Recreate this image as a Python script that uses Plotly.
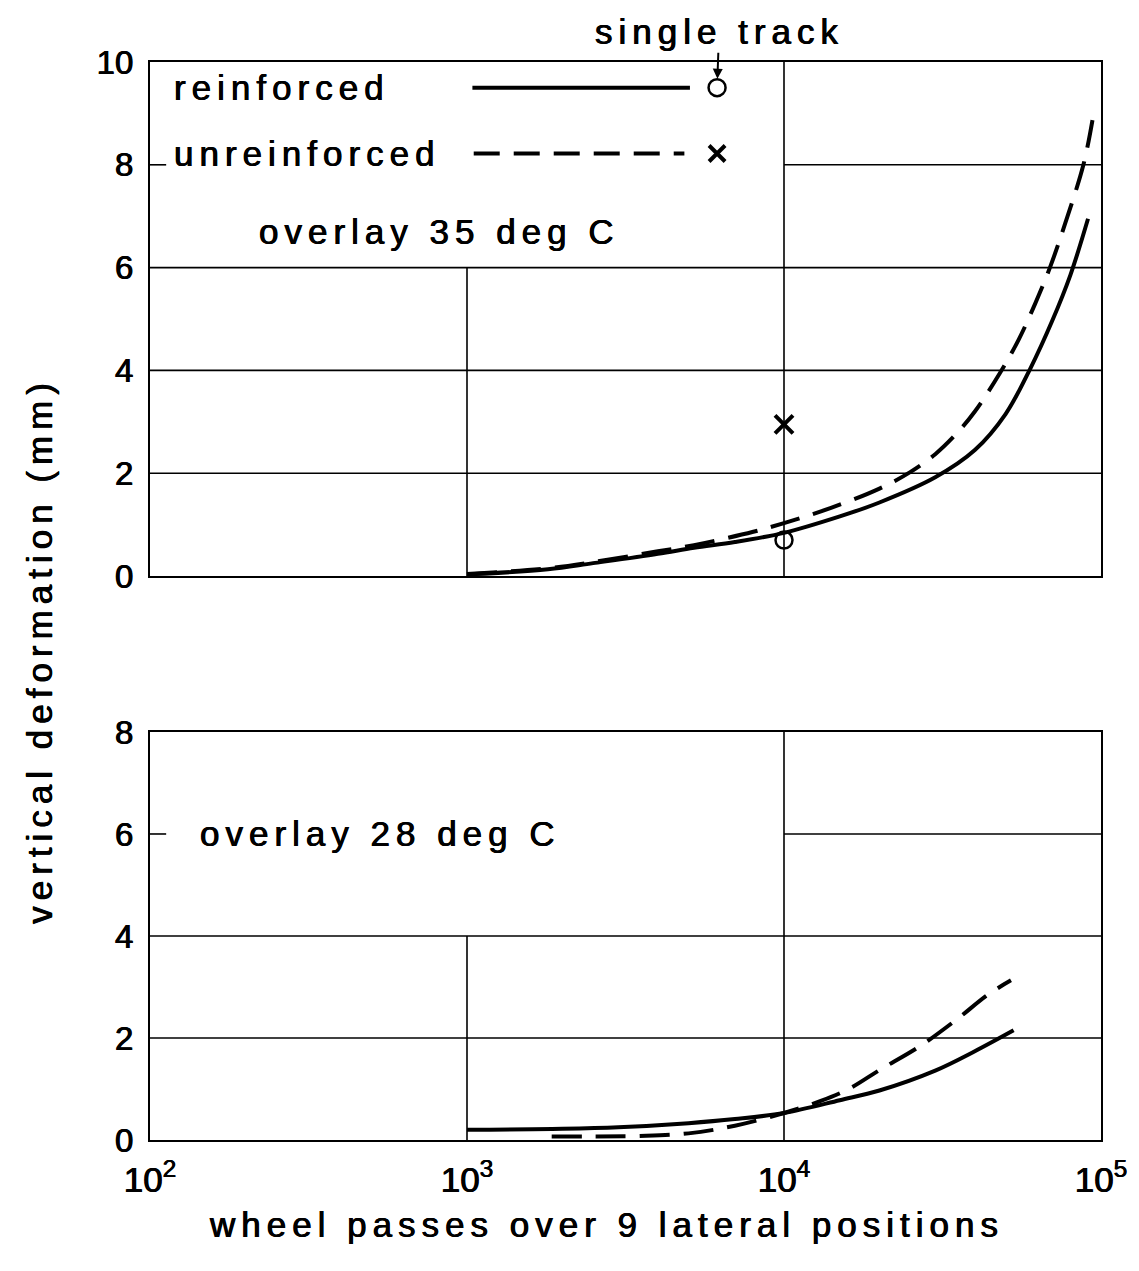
import math
import plotly.graph_objects as go

# ---- data: vertical deformation (mm) vs wheel passes over 9 lateral positions ----
# overlay 35 deg C
passes_35_reinf = [1000, 1800, 2500, 4000, 5200, 7000, 10000, 15000, 20000, 30000,
                   40000, 50000, 60000, 70000, 80000, 91000]
defo_35_reinf = [0.03, 0.13, 0.25, 0.43, 0.55, 0.66, 0.84, 1.16, 1.43, 1.92,
                 2.45, 3.15, 4.05, 4.95, 5.85, 6.95]

passes_35_unreinf = [1000, 1800, 2500, 4000, 5200, 8000, 10000, 14000, 20000, 25000,
                     30000, 35000, 40000, 48000, 55000, 62000, 69000, 77000, 88000, 94000]
defo_35_unreinf = [0.04, 0.15, 0.27, 0.48, 0.6, 0.86, 1.03, 1.32, 1.7, 2.02,
                   2.37, 2.77, 3.2, 3.95, 4.6, 5.3, 6.0, 6.85, 8.0, 8.87]

# single track results at 10^4 passes (35 deg C)
single_passes = [10000]
single_reinf = [0.7]
single_unreinf = [2.95]

# overlay 28 deg C
passes_28_reinf = [1000, 2000, 3000, 5000, 7000, 10000, 15000, 20000, 30000, 40000, 53000]
defo_28_reinf = [0.2, 0.22, 0.25, 0.33, 0.41, 0.53, 0.78, 0.97, 1.36, 1.74, 2.15]

passes_28_unreinf = [1850, 2500, 3500, 5000, 7000, 10000, 13000, 16000, 20000, 27000,
                     35000, 44000, 52000]
defo_28_unreinf = [0.07, 0.07, 0.08, 0.13, 0.28, 0.53, 0.76, 1.0, 1.37, 1.85,
                   2.36, 2.85, 3.13]

# key (legend) sample positions in the upper panel
key_line_reinf_x = [1040, 5050]
key_line_reinf_y = [9.5, 9.5]
key_line_unreinf_x = [1050, 4850]
key_line_unreinf_y = [8.22, 8.22]
key_marker_x = [6150]
key_marker_reinf_y = [9.5]
key_marker_unreinf_y = [8.22]

x_tickvals = [1e2, 1e3, 1e4, 1e5]
x_ticktext = ["10<sup>2</sup>", "10<sup>3</sup>", "10<sup>4</sup>", "10<sup>5</sup>"]
y_ticks_top = [0, 2, 4, 6, 8, 10]
y_ticks_bottom = [0, 2, 4, 6, 8]

FONT = "Liberation Sans, Arial, Helvetica, sans-serif"
INK = "black"
HEAVY = "0.45px 0px 0px #000, -0.45px 0px 0px #000"


def spaced(text, px=6):
    return f'<span style="letter-spacing:{px}px">{text}</span>'


fig = go.Figure()

solid = dict(color=INK, width=4)
dashed = dict(color=INK, width=4, dash="30px,14px")
smooth = dict(shape="spline", smoothing=1.0)

# upper panel curves
fig.add_trace(go.Scatter(x=passes_35_reinf, y=defo_35_reinf, mode="lines",
                         line=dict(**solid, **smooth),
                         xaxis="x", yaxis="y", showlegend=False))
fig.add_trace(go.Scatter(x=passes_35_unreinf, y=defo_35_unreinf, mode="lines",
                         line=dict(**dashed, **smooth),
                         xaxis="x", yaxis="y", showlegend=False))
fig.add_trace(go.Scatter(x=single_passes, y=single_reinf, mode="markers",
                         marker=dict(symbol="circle-open", size=17, color=INK,
                                     line=dict(width=2.5, color=INK)),
                         xaxis="x", yaxis="y", showlegend=False))
fig.add_trace(go.Scatter(x=single_passes, y=single_unreinf, mode="markers",
                         marker=dict(symbol="x-thin", size=18, color=INK,
                                     line=dict(width=4, color=INK)),
                         xaxis="x", yaxis="y", showlegend=False))

# key samples
fig.add_trace(go.Scatter(x=key_line_reinf_x, y=key_line_reinf_y, mode="lines",
                         line=solid, xaxis="x", yaxis="y", showlegend=False))
fig.add_trace(go.Scatter(x=key_line_unreinf_x, y=key_line_unreinf_y, mode="lines",
                         line=dict(color=INK, width=4, dash="26px,14px"),
                         xaxis="x", yaxis="y", showlegend=False))
fig.add_trace(go.Scatter(x=key_marker_x, y=key_marker_reinf_y, mode="markers",
                         marker=dict(symbol="circle-open", size=17, color=INK,
                                     line=dict(width=2.5, color=INK)),
                         xaxis="x", yaxis="y", showlegend=False))
fig.add_trace(go.Scatter(x=key_marker_x, y=key_marker_unreinf_y, mode="markers",
                         marker=dict(symbol="x-thin", size=16, color=INK,
                                     line=dict(width=4, color=INK)),
                         xaxis="x", yaxis="y", showlegend=False))

# lower panel curves
fig.add_trace(go.Scatter(x=passes_28_reinf, y=defo_28_reinf, mode="lines",
                         line=dict(**solid, **smooth),
                         xaxis="x2", yaxis="y2", showlegend=False))
fig.add_trace(go.Scatter(x=passes_28_unreinf, y=defo_28_unreinf, mode="lines",
                         line=dict(**dashed, **smooth),
                         xaxis="x2", yaxis="y2", showlegend=False))

# partial grid lines
shapes = []
grid = dict(color=INK, width=1.6)


def hline(yref, xr, y0, x0, x1):
    shapes.append(dict(type="line", xref=xr, yref=yref, x0=x0, x1=x1, y0=y0, y1=y0,
                       line=grid, layer="below"))


def vline(yref, xr, x0, y0, y1):
    shapes.append(dict(type="line", xref=xr, yref=yref, x0=x0, x1=x0, y0=y0, y1=y1,
                       line=grid, layer="below"))


# upper panel
for yv in (2, 4, 6):
    hline("y", "x domain", yv, 0, 1)
hline("y", "x domain", 8, 2 / 3, 1)
hline("y", "x domain", 8, 0, 0.017)
vline("y", "x domain", 1 / 3, 0, 6)
vline("y", "x domain", 2 / 3, 0, 10)
# lower panel
for yv in (2, 4):
    hline("y2", "x2 domain", yv, 0, 1)
hline("y2", "x2 domain", 6, 2 / 3, 1)
hline("y2", "x2 domain", 6, 0, 0.017)
vline("y2", "x2 domain", 1 / 3, 0, 4)
vline("y2", "x2 domain", 2 / 3, 0, 8)

txt = dict(family=FONT, size=35, color=INK, shadow=HEAVY)
tickf = dict(family=FONT, size=33, color=INK, shadow=HEAVY)

annotations = [
    dict(text=spaced("reinforced"), xref="x domain", yref="y", x=0.023, y=9.5,
         xanchor="left", yanchor="middle", showarrow=False, font=txt),
    dict(text=spaced("unreinforced"), xref="x domain", yref="y", x=0.023, y=8.22,
         xanchor="left", yanchor="middle", showarrow=False, font=txt),
    dict(text=spaced("overlay 35 deg C"), xref="x domain", yref="y", x=0.113, y=6.7,
         xanchor="left", yanchor="middle", showarrow=False, font=txt),
    dict(text=spaced("overlay 28 deg C"), xref="x2 domain", yref="y2", x=0.05, y=6.0,
         xanchor="left", yanchor="middle", showarrow=False, font=txt),
    dict(text=spaced("single track"), xref="x", yref="y", x=math.log10(key_marker_x[0]),
         y=key_marker_reinf_y[0], ax=2, ay=-56, showarrow=True, arrowhead=2,
         arrowsize=1, arrowwidth=2, arrowcolor=INK, standoff=9, font=txt),
    dict(text=spaced("wheel passes over 9 lateral positions"), xref="paper", yref="paper",
         x=0.48, y=-0.078, xanchor="center", yanchor="middle", showarrow=False, font=txt),
    dict(text=spaced("vertical deformation (mm)"), xref="paper", yref="paper",
         x=-0.117, y=0.4545, xanchor="center", yanchor="middle", textangle=-90,
         showarrow=False, font=txt),
]

axis_common = dict(showline=True, linecolor=INK, linewidth=2.2, mirror=True,
                   showgrid=False, zeroline=False, ticks="")

fig.update_layout(
    width=1139, height=1271,
    margin=dict(l=150, r=31, t=62, b=131),
    paper_bgcolor="white", plot_bgcolor="white",
    font=dict(family=FONT, color=INK),
    xaxis=dict(type="log", range=[2, 5], domain=[0, 1], anchor="y",
               showticklabels=False, **axis_common),
    yaxis=dict(range=[0, 10], domain=[0.5232, 1], anchor="x", tickvals=y_ticks_top,
               tickfont=tickf, ticklabelstandoff=8, **axis_common),
    xaxis2=dict(type="log", range=[2, 5], domain=[0, 1], anchor="y2",
                tickvals=x_tickvals, ticktext=x_ticktext,
                tickfont=dict(family=FONT, size=35, color=INK, shadow=HEAVY),
                ticklabelstandoff=8, **axis_common),
    yaxis2=dict(range=[0, 8], domain=[0, 0.3785], anchor="x2", tickvals=y_ticks_bottom,
                tickfont=tickf, ticklabelstandoff=8, **axis_common),
    shapes=shapes,
    annotations=annotations,
)

fig.write_html("out.html")
